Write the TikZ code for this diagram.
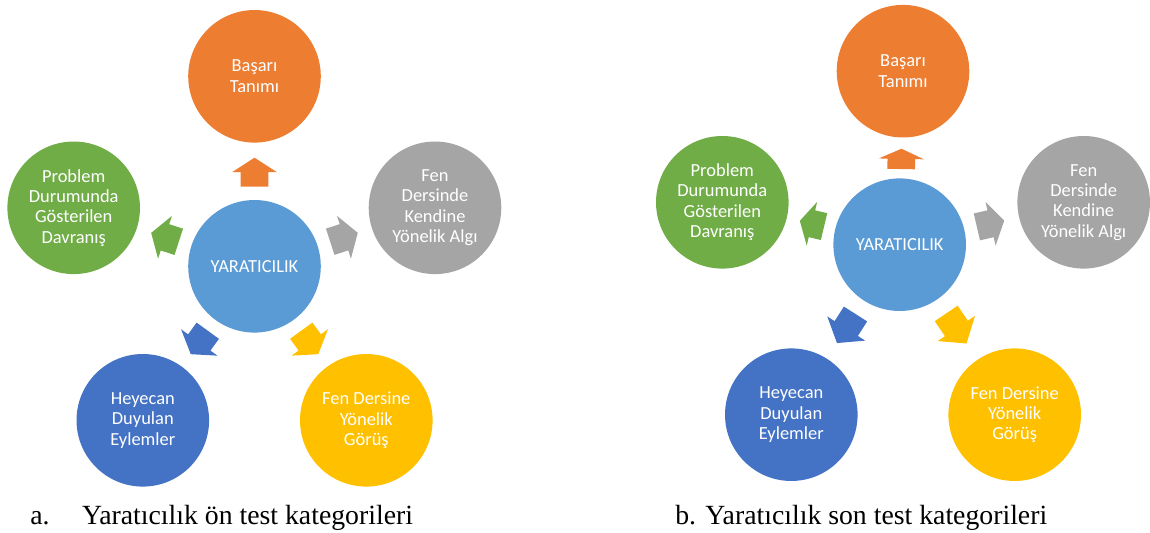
\documentclass[tikz,border=0pt]{standalone}
\usepackage{fontspec}
\setmainfont{Liberation Serif}
\newfontfamily\calib{Carlito}
\usepackage{tikz}
\usetikzlibrary{calc}

\definecolor{offorange}{HTML}{ED7D31}
\definecolor{offgray}{HTML}{A5A5A5}
\definecolor{offgreen}{HTML}{70AD47}
\definecolor{offblue}{HTML}{4472C4}
\definecolor{offyellow}{HTML}{FFC000}
\definecolor{offsky}{HTML}{5B9BD5}

\tikzset{
  bubble/.style={circle,minimum size=2.652cm,inner sep=0pt,align=center,
    text=white,font=\calib\fontsize{10.5}{11.6}\selectfont},
  caption/.style={anchor=base west,inner sep=0pt,font=\fontsize{15.8}{18}\selectfont}
}

% block arrow from node #1 towards node #2: start, head base, tip, colour
\newcommand{\blockarr}[6]{%
  \fill[#6] ($(#1)!#3!(#2)!0.276cm!90:(#2)$) -- ($(#1)!#4!(#2)!0.276cm!90:(#2)$)
    -- ($(#1)!#4!(#2)!0.45cm!90:(#2)$) -- ($(#1)!#5!(#2)$)
    -- ($(#1)!#4!(#2)!0.45cm!-90:(#2)$) -- ($(#1)!#4!(#2)!0.276cm!-90:(#2)$)
    -- ($(#1)!#3!(#2)!0.276cm!-90:(#2)$) -- cycle;}

\begin{document}
\begin{tikzpicture}[x=0.02cm,y=-0.02cm]
\useasboundingbox (0,0) rectangle (1150,533);

% a: pre-test
\node[bubble,fill=offsky] (ybA) at (254.5,266.3) {YARATICILIK};
\node[bubble,fill=offorange] (bsA) at (254.5,76.3) {Başarı\\Tanımı};
\node[bubble,fill=offgray] (fdA) at (435,207.8) {Fen\\Dersinde\\Kendine\\Yönelik Algı};
\node[bubble,fill=offgreen] (pdA) at (73.7,207.8) {Problem\\Durumunda\\Gösterilen\\Davranış};
\node[bubble,fill=offblue] (heA) at (142.8,420.3) {Heyecan\\Duyulan\\Eylemler};
\node[bubble,fill=offyellow] (fgA) at (366.3,420.3) {Fen Dersine\\Yönelik\\Görüş};
\blockarr{ybA}{bsA}{1.592cm}{1.882cm}{2.172cm}{offorange}
\blockarr{ybA}{fdA}{1.592cm}{1.882cm}{2.172cm}{offgray}
\blockarr{ybA}{pdA}{1.592cm}{1.882cm}{2.172cm}{offgreen}
\blockarr{ybA}{heA}{1.592cm}{1.882cm}{2.172cm}{offblue}
\blockarr{ybA}{fgA}{1.592cm}{1.882cm}{2.172cm}{offyellow}
\node[caption] (capA) at (30,524) {a.};
\node[caption] (capAt) at (81.7,524) {Yaratıcılık ön test kategorileri};

% b: post-test
\node[bubble,fill=offsky] (ybB) at (899.7,244.7) {YARATICILIK};
\node[bubble,fill=offorange] (bsB) at (903,71.2) {Başarı\\Tanımı};
\node[bubble,fill=offgray] (fdB) at (1083.7,202.3) {Fen\\Dersinde\\Kendine\\Yönelik Algı};
\node[bubble,fill=offgreen] (pdB) at (722.3,202.3) {Problem\\Durumunda\\Gösterilen\\Davranış};
\node[bubble,fill=offblue] (heB) at (791.3,414.7) {Heyecan\\Duyulan\\Eylemler};
\node[bubble,fill=offyellow] (fgB) at (1014.7,414.7) {Fen Dersine\\Yönelik\\Görüş};
\blockarr{ybB}{bsB}{1.514cm}{1.717cm}{1.92cm}{offorange}
\blockarr{ybB}{fdB}{1.584cm}{1.865cm}{2.146cm}{offgray}
\blockarr{ybB}{pdB}{1.556cm}{1.805cm}{2.054cm}{offgreen}
\blockarr{ybB}{heB}{1.644cm}{1.989cm}{2.334cm}{offblue}
\blockarr{ybB}{fgB}{1.66cm}{2.023cm}{2.386cm}{offyellow}
\node[caption] (capB) at (675,524) {b. Yaratıcılık son test kategorileri};
\end{tikzpicture}
\end{document}
